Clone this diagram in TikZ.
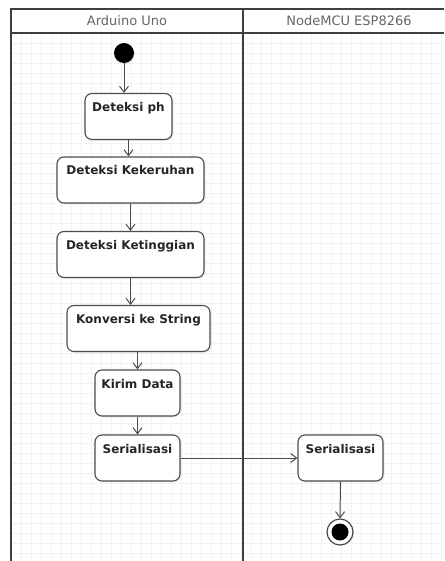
\documentclass[tikz,border=0pt]{standalone}
\usepackage{fontspec}
\setmainfont{DejaVu Sans}
\usetikzlibrary{arrows.meta,shadows}
\begin{document}
\begin{tikzpicture}[x=1pt,y=-1pt,
  lane/.style={draw=black!75, line width=1.6pt},
  lanetitle/.style={text=black!60, font=\fontsize{13}{15}\selectfont, inner sep=0pt},
  gridline/.style={draw=black!5, line width=0.5pt},
  act/.style={draw=black!70, line width=1.1pt, rounded corners=7pt, fill=white,
    font=\bfseries\fontsize{12}{14}\selectfont, text=black!85, inner xsep=0pt, inner ysep=0pt,
    text height=18pt, text depth=28pt,
    drop shadow={opacity=0.12, shadow xshift=1.5pt, shadow yshift=-1.5pt}},
  flow/.style={draw=black!70, line width=1pt, -{Straight Barb[length=6pt,width=9pt,line width=1pt]}},
]
\useasboundingbox (0,0) rectangle (444,561);
\fill[white] (0,0) rectangle (444,561);

% background grid
\foreach \gx in {21,31,...,441} \draw[gridline] (\gx,33) -- (\gx,561);
\foreach \gy in {43,53,...,561} \draw[gridline] (11,\gy) -- (444,\gy);

% swimlanes
\draw[lane] (444,9) -- (11,9) -- (11,561);
\draw[lane] (11,33) -- (444,33);
\draw[lane] (243,9) -- (243,561);
\node[lanetitle] (laneA) at (127,21) {Arduino Uno};
\node[lanetitle] (laneB) at (349,21) {NodeMCU ESP8266};

% initial node
\fill[black, drop shadow={opacity=0.15, shadow xshift=1pt, shadow yshift=-1pt}] (124,53) circle (10) coordinate (start);
\coordinate (startB) at (124,63);

% actions
\node[act, minimum width=87pt] (ph)   at (128.5,116.5) {Deteksi ph};
\node[act, minimum width=147pt] (keru) at (130.5,180) {Deteksi Kekeruhan};
\node[act, minimum width=147pt] (ting) at (130.5,254.5) {Deteksi Ketinggian};
\node[act, minimum width=143pt] (konv) at (138.5,328.5) {Konversi ke String};
\node[act, minimum width=85pt] (kirim) at (137.5,393) {Kirim Data};
\node[act, minimum width=85pt] (serA) at (137.5,458) {Serialisasi};
\node[act, minimum width=85pt] (serB) at (340.5,458) {Serialisasi};

% final node
\node[circle, draw=black!75, line width=1.1pt, fill=white, minimum size=26pt, inner sep=0pt,
  drop shadow={opacity=0.15, shadow xshift=1pt, shadow yshift=-1pt}] (final) at (340,532) {};
\fill[black] (final.center) circle (8.5);

% control flow
\draw[flow] (startB) -- (startB |- ph.north);
\draw[flow] (ph.south) -- (ph.south |- keru.north);
\draw[flow] (keru.south) -- (keru.south |- ting.north);
\draw[flow] (ting.south) -- (ting.south |- konv.north);
\draw[flow] (konv.south -| kirim) -- (kirim.north);
\draw[flow] (kirim.south) -- (serA.north);
\draw[flow] (serA.east) -- (serB.west);
\draw[flow] (serB.south) -- (final.north);
\end{tikzpicture}
\end{document}
